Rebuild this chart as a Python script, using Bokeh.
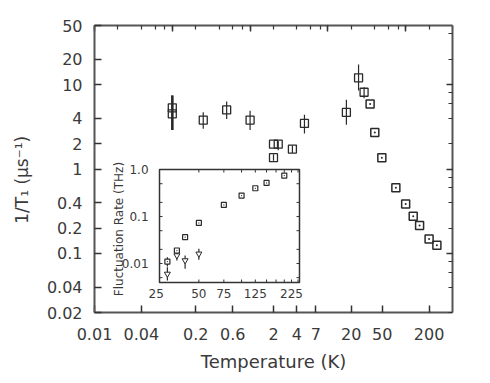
import math
from bokeh.plotting import figure
from bokeh.models import Range1d, LogScale, LogAxis, FixedTicker, LogTicker, CustomJSTickFormatter
from bokeh.embed import file_html
from bokeh.resources import INLINE
from bokeh.core.properties import value

# ---------------- data ----------------
# main panel: low-temperature points with error bars (open squares)
temp_err = [0.1, 0.1, 0.25, 0.5, 1.0, 2.0, 2.3, 2.0, 3.5, 5.0, 17.3, 24.8, 29.2]
rate_err = [5.3, 4.5, 3.8, 5.0, 3.8, 1.97, 1.97, 1.36, 1.72, 3.46, 4.68, 12.0, 8.1]
rate_lo = [2.9, 2.9, 3.0, 3.9, 2.9, 1.97, 1.67, 1.25, 1.55, 2.63, 3.34, 8.5, 6.9]
rate_hi = [7.4, 7.4, 4.7, 6.3, 4.9, 1.97, 2.15, 1.50, 1.90, 4.40, 6.6, 17.3, 9.3]
# main panel: high-temperature points (dotted squares)
temp_dot = [34.9, 40.1, 49.4, 74.8, 100, 125, 151, 200, 252]
rate_dot = [5.9, 2.7, 1.36, 0.60, 0.386, 0.276, 0.214, 0.148, 0.125]

x_ticks = [0.01, 0.04, 0.2, 0.6, 2, 4, 7, 20, 50, 200]
y_ticks = [0.02, 0.04, 0.1, 0.2, 0.4, 1, 2, 4, 10, 20, 50]

# inset: fluctuation rate (THz)
inset_temp = [30, 35, 40, 50, 75, 100, 125, 150, 200]
inset_sq = [0.011, 0.0189, 0.0363, 0.073, 0.177, 0.28, 0.40, 0.52, 0.745]
inset_sq_lo = [0.0086]
inset_sq_hi = [0.0136]
inset_tri_temp = [30, 35, 40, 50]
inset_tri = [0.0060, 0.0148, 0.0116, 0.0161]
inset_tri_lo = [0.00435, 0.0116, 0.0077, 0.0120]
inset_tri_hi = [0.0083, 0.0199, 0.0148, 0.0206]

inset_x_labels = [25, 50, 75, 125, 225]
inset_y_labels = [1.0, 0.1, 0.01]
inset_y_label_text = ["1.0", "0.1", "0.01"]
inset_y_minor = [0.005, 0.01, 0.02, 0.05, 0.1, 0.2, 0.5]
inset_x_minor = [50, 75, 100, 125, 150, 175, 200, 225, 250]

X_RANGE = (0.01, 400)
Y_RANGE = (0.02, 50)
INSET_X = (26.4, 256)
INSET_Y = (0.00394, 1.0)
# inset box as fractions of the main frame (left, right, bottom, top)
BOX = (0.1816, 0.5726, 0.1045, 0.498)

INK = "#2a2a2a"
AXC = "#555555"
TXT = "#3a3a3a"
FONT = "DejaVu Sans"
NBSP = "\u00a0"


def spread(lo, hi, f0, f1):
    a, b = math.log10(lo), math.log10(hi)
    s = (b - a) / (f1 - f0)
    start = a - f0 * s
    return 10 ** start, 10 ** (start + s)


p = figure(width=482, height=375, x_axis_type="log", y_axis_type="log",
           x_range=Range1d(*X_RANGE), y_range=Range1d(*Y_RANGE),
           output_backend="svg", toolbar_location=None,
           min_border_left=94, min_border_right=30, min_border_top=25, min_border_bottom=63)
p.grid.visible = False
p.outline_line_color = None
p.background_fill_color = "white"
p.border_fill_color = "white"

fmt = CustomJSTickFormatter(code="return String(tick);")
blank = CustomJSTickFormatter(code="return '';")

for ax, ticks in ((p.xaxis[0], x_ticks), (p.yaxis[0], y_ticks)):
    ax.ticker = FixedTicker(ticks=ticks, minor_ticks=[])
    ax.formatter = fmt
    ax.major_tick_in = 7
    ax.major_tick_out = 0
    ax.minor_tick_in = 0
    ax.minor_tick_out = 0
    ax.major_tick_line_color = "#333333"
    ax.major_tick_line_width = 1.5
    ax.axis_line_color = AXC
    ax.axis_line_width = 2
    ax.major_label_text_font = FONT
    ax.major_label_text_font_size = "16px"
    ax.major_label_text_color = TXT
    ax.axis_label_text_font = FONT
    ax.axis_label_text_font_style = "normal"
    ax.axis_label_text_color = TXT

p.xaxis[0].major_label_standoff = 15
p.yaxis[0].major_label_standoff = 12
p.xaxis[0].axis_label = "Temperature (K)"
p.xaxis[0].axis_label_text_font_size = "18px"
p.xaxis[0].axis_label_standoff = 8
p.yaxis[0].axis_label = "1/T\u2081 (\u03bcs\u207b\u00b9)" + NBSP * 4
p.yaxis[0].axis_label_text_font_size = "17px"
p.yaxis[0].axis_label_standoff = 12

for side in ("above", "right"):
    ax = LogAxis(ticker=LogTicker(), formatter=blank)
    ax.major_tick_in = 6
    ax.major_tick_out = 0
    ax.minor_tick_in = 4
    ax.minor_tick_out = 0
    ax.major_tick_line_color = "#333333"
    ax.minor_tick_line_color = "#333333"
    ax.major_tick_line_width = 1.5
    ax.minor_tick_line_width = 1.2
    ax.axis_line_color = AXC
    ax.axis_line_width = 2
    ax.major_label_text_font_size = "1px"
    p.add_layout(ax, side)

# ---------------- main data ----------------
p.segment(x0=temp_err[:2], y0=rate_lo[:2], x1=temp_err[:2], y1=rate_hi[:2],
          line_color=INK, line_width=2.2)
p.segment(x0=temp_err[2:], y0=rate_lo[2:], x1=temp_err[2:], y1=rate_hi[2:],
          line_color=INK, line_width=1.2)
p.scatter(temp_err, rate_err, marker="square", size=8, fill_color=None,
          line_color=INK, line_width=1.3)
p.scatter(temp_dot, rate_dot, marker="square_dot", size=8, fill_color=None,
          line_color=INK, line_width=1.5)

# ---------------- inset ----------------
ix = spread(*INSET_X, BOX[0], BOX[1])
iy = spread(*INSET_Y, BOX[2], BOX[3])
p.extra_x_ranges = {"ix": Range1d(*ix)}
p.extra_y_ranges = {"iy": Range1d(*iy)}
p.extra_x_scales = {"ix": LogScale()}
p.extra_y_scales = {"iy": LogScale()}
kw = dict(x_range_name="ix", y_range_name="iy")

p.quad(left=[INSET_X[0]], right=[INSET_X[1]], bottom=[INSET_Y[0]], top=[INSET_Y[1]],
       fill_color="white", line_color="#333333", line_width=1.5, **kw)

n = len(inset_y_minor)
p.ray(x=[INSET_X[0]] * n, y=inset_y_minor, length=3, length_units="screen", angle=0,
      line_color="#333333", line_width=1, **kw)
p.ray(x=[INSET_X[1]] * n, y=inset_y_minor, length=3, length_units="screen", angle=math.pi,
      line_color="#333333", line_width=1, **kw)
m = len(inset_x_minor)
p.ray(x=inset_x_minor, y=[INSET_Y[0]] * m, length=3, length_units="screen", angle=math.pi / 2,
      line_color="#333333", line_width=1, **kw)
p.ray(x=inset_x_minor, y=[INSET_Y[1]] * m, length=3, length_units="screen", angle=-math.pi / 2,
      line_color="#333333", line_width=1, **kw)

p.text(x=inset_x_labels, y=[INSET_Y[0]] * len(inset_x_labels),
       text=[str(v) for v in inset_x_labels], y_offset=6,
       text_font=value(FONT), text_font_size="12px", text_color=TXT,
       text_align="center", text_baseline="top", **kw)
p.text(x=[INSET_X[0]] * len(inset_y_labels), y=inset_y_labels, text=inset_y_label_text,
       x_offset=-11, text_font=value(FONT), text_font_size="12px", text_color=TXT,
       text_align="right", text_baseline="middle", **kw)
p.text(x=[INSET_X[0]], y=[math.sqrt(INSET_Y[0] * INSET_Y[1])], text=["Fluctuation Rate (THz)"],
       x_offset=-41, y_offset=3, angle=math.pi / 2,
       text_font=value(FONT), text_font_size="12px", text_color=TXT,
       text_align="center", text_baseline="middle", **kw)

p.segment(x0=inset_tri_temp, y0=inset_tri_lo, x1=inset_tri_temp, y1=inset_tri_hi,
          line_color=INK, line_width=1.2, **kw)
p.segment(x0=inset_temp[:1], y0=inset_sq_lo, x1=inset_temp[:1], y1=inset_sq_hi,
          line_color=INK, line_width=1.2, **kw)
p.scatter(inset_tri_temp, inset_tri, marker="inverted_triangle", size=6, fill_color="white",
          line_color=INK, line_width=1, **kw)
p.scatter(inset_temp, inset_sq, marker="square_dot", size=5, fill_color="white",
          line_color=INK, line_width=1.2, **kw)

open("out.html", "w").write(file_html(p, INLINE))
